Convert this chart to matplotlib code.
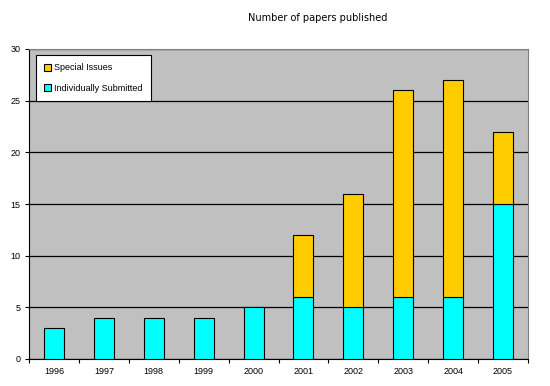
import matplotlib.pyplot as plt
import numpy as np

years = ['1996', '1997', '1998', '1999', '2000', '2001', '2002', '2003', '2004', '2005']
individual = [3, 4, 4, 4, 5, 6, 5, 6, 6, 15]
special = [0, 0, 0, 0, 0, 6, 11, 20, 21, 7]

plt.rcParams['font.family'] = ['Liberation Sans', 'DejaVu Sans']

fig = plt.figure(figsize=(5.5, 3.86), dpi=100)
ax = fig.add_axes([29 / 550, 27 / 386, 499 / 550, 310 / 386])
ax.set_facecolor('#c0c0c0')

x = np.arange(len(years))
ax.bar(x, individual, width=0.4, color='#00ffff', edgecolor='black', linewidth=0.8,
       label='Individually Submitted', zorder=3)
sp_vals = np.array(special)
sp_x = x[sp_vals > 0]
ax.bar(sp_x, sp_vals[sp_vals > 0], width=0.4, bottom=np.array(individual)[sp_vals > 0],
       color='#ffcc00', edgecolor='black', linewidth=0.8, label='Special Issues', zorder=3)

ax.set_xlim(-0.5, len(years) - 0.5)
ax.set_ylim(0, 30)
ax.set_yticks(range(0, 31, 5))
ax.yaxis.grid(True, color='black', linewidth=0.9, zorder=1)
ax.set_axisbelow(True)

ax.set_xticks(x)
ax.set_xticklabels(years, fontsize=6.5)
ax.set_xticks(np.arange(-0.5, len(years), 1.0), minor=True)
ax.tick_params(axis='x', which='major', length=0, pad=6)
ax.tick_params(axis='x', which='minor', length=3, direction='out', width=0.8)
ax.tick_params(axis='y', labelsize=6.5, length=3, direction='out', width=0.8, pad=3)

for side in ['top', 'right']:
    ax.spines[side].set_color('#808080')
for side in ['left', 'bottom']:
    ax.spines[side].set_color('black')

handles, labels = ax.get_legend_handles_labels()
leg = ax.legend(handles[::-1], labels[::-1], loc='upper left', bbox_to_anchor=(0.014, 0.98),
                fontsize=6.5, frameon=True, fancybox=False, edgecolor='black',
                facecolor='white', framealpha=1,
                handlelength=0.8, handleheight=0.8, handletextpad=0.3,
                labelspacing=1.3, borderpad=0.9, borderaxespad=0)
leg.get_frame().set_linewidth(0.8)

fig.text(318 / 550, 1 - 18 / 386, 'Number of papers published', ha='center', va='center',
         fontsize=7, family='DejaVu Sans')

fig.savefig('out.png', dpi=100)
